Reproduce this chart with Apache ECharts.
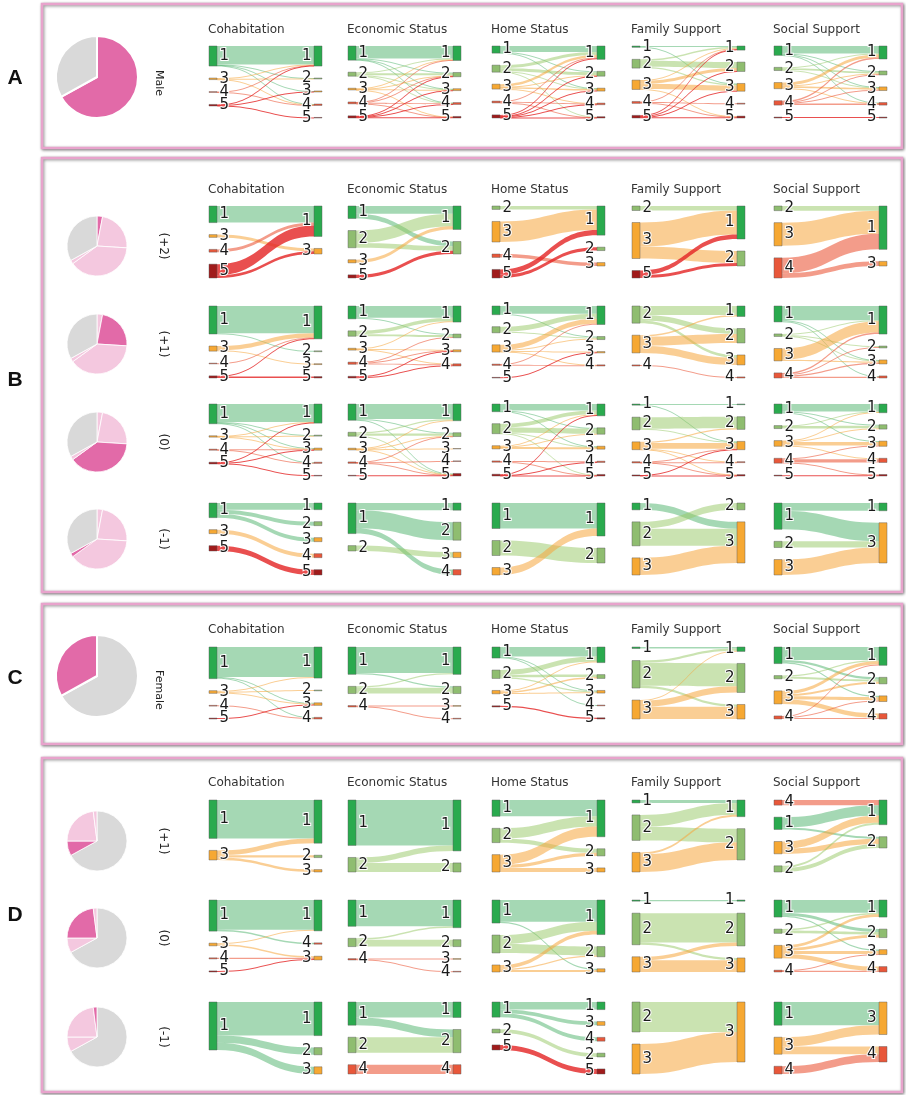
<!DOCTYPE html>
<html>
<head>
<meta charset="utf-8">
<script src="https://cdn.jsdelivr.net/npm/echarts@6/dist/echarts.min.js"></script>
<style>
html,body{margin:0;padding:0;background:#fff;}
#chart{width:906px;height:1095px;}
</style>
</head>
<body>
<div id="chart"></div>
<script>
// ---------- data ----------
const measures = ['Cohabitation', 'Economic Status', 'Home Status', 'Family Support', 'Social Support'];
const rowLabels = ['Male', '(+2)', '(+1)', '(0)', '(-1)', 'Female', '(+1)', '(0)', '(-1)'];
const panelLetters = ['A', 'B', 'C', 'D'];

const genders = ['Male', 'Female'];
const genderShares = [67, 33];
const maleGroups = ['(+2)', '(+1)', '(0)', '(-1)'];
const maleGroupShares = [3, 23, 39, 2];
const femaleGroups = ['(+1)', '(0)', '(-1)'];
const femaleGroupShares = [8, 23, 2];

// transitions per measure: [from category, to category, share]
const flowsMale = [
  [[1,1,20],[1,2,0.6],[1,3,0.6],[1,4,0.6],[3,1,0.8],[3,2,0.4],[3,4,0.5],[4,1,0.4],[4,4,0.5],[5,1,0.6],[5,3,0.5],[5,5,0.6]],
  [[1,1,12],[1,2,0.8],[1,3,0.5],[1,4,0.4],[2,1,1],[2,2,2],[2,3,0.5],[2,4,0.4],[3,1,0.6],[3,2,0.4],[3,3,0.4],[3,5,0.3],[4,1,0.4],[4,2,0.4],[4,4,0.6],[4,5,0.4],[5,2,0.5],[5,3,0.4],[5,4,0.4],[5,5,0.8]],
  [[1,1,6],[1,2,0.8],[1,3,0.3],[2,1,3],[2,2,3],[2,3,0.6],[2,5,0.4],[3,1,2.5],[3,2,0.6],[3,3,1.5],[3,4,0.3],[4,1,0.6],[4,4,0.8],[4,5,0.4],[5,1,1.2],[5,2,0.4],[5,3,0.5],[5,4,0.5],[5,5,0.5]],
  [[1,1,0.5],[1,3,0.4],[2,1,1],[2,2,4],[2,3,1],[3,1,0.5],[3,2,2],[3,3,3.5],[3,5,0.4],[4,1,0.3],[4,4,0.6],[4,5,0.4],[5,1,0.5],[5,2,0.4],[5,3,0.4],[5,5,0.5]],
  [[1,1,5],[1,2,0.5],[1,3,0.4],[1,4,0.3],[2,1,0.6],[2,2,1.2],[2,3,0.3],[3,1,2],[3,2,0.5],[3,3,1.2],[3,4,0.4],[4,1,1],[4,2,0.4],[4,3,0.5],[4,4,1],[5,5,0.6]]
];
const flowsMaleP2 = [
  [[1,1,12],[3,3,2],[4,1,2],[5,1,8],[5,3,2]],
  [[1,1,5],[1,2,3],[2,1,8],[2,2,3],[3,1,2],[5,2,2]],
  [[2,1,2],[3,1,12],[4,3,2],[5,1,3],[5,2,2]],
  [[2,1,3],[3,1,16],[3,2,8],[5,1,3],[5,2,2]],
  [[2,1,3],[3,1,15],[4,1,10],[4,3,3]]
];
const flowsMaleP1 = [
  [[1,1,19],[1,2,0.6],[3,1,3],[3,3,0.6],[4,1,0.5],[5,1,0.5],[5,5,1]],
  [[1,1,7],[1,2,0.6],[2,1,2],[2,2,1.2],[3,1,0.5],[3,3,0.3],[3,4,0.3],[4,2,0.4],[4,3,0.4],[4,4,0.5],[5,3,0.5],[5,4,0.5]],
  [[1,1,6],[1,2,0.8],[2,1,4],[2,2,0.8],[3,1,4],[3,2,0.8],[3,3,0.5],[3,4,0.4],[4,1,0.5],[4,4,0.5],[5,3,0.5]],
  [[2,1,5],[2,2,3],[2,3,1.5],[3,1,0.8],[3,2,5],[3,3,4],[4,4,0.6]],
  [[1,1,9],[1,3,0.5],[1,4,0.5],[2,1,0.6],[2,2,0.6],[2,3,0.4],[3,1,7],[3,3,0.8],[4,1,1],[4,2,0.6],[4,3,0.8],[4,4,0.8]]
];
const flowsMale0 = [
  [[1,1,17],[1,2,0.5],[1,3,0.6],[1,4,0.6],[3,1,0.5],[3,2,0.4],[3,3,0.4],[4,3,0.5],[4,4,0.5],[5,1,0.6],[5,3,0.5],[5,5,0.6]],
  [[1,1,13],[1,2,0.6],[1,5,0.5],[2,1,1],[2,2,2],[2,5,0.4],[3,1,0.5],[3,2,0.4],[3,3,0.3],[3,5,0.3],[4,2,0.3],[4,4,0.5],[4,5,0.4],[5,5,0.6]],
  [[1,1,5],[1,2,0.6],[1,3,0.4],[2,1,3],[2,2,4],[2,3,0.4],[2,5,0.4],[3,1,0.6],[3,2,0.4],[3,3,1.5],[4,4,0.6],[4,5,0.4],[5,1,0.6],[5,4,0.4],[5,5,0.4]],
  [[1,1,0.6],[1,3,0.4],[2,2,10],[2,3,1],[3,2,1],[3,3,5],[3,4,0.4],[3,5,0.4],[4,3,0.4],[4,4,0.4],[4,5,0.3],[5,3,0.4],[5,5,0.5]],
  [[1,1,4.5],[1,2,0.6],[1,3,0.6],[2,1,0.3],[2,2,1.5],[3,1,0.4],[3,2,0.5],[3,3,2],[3,4,0.5],[4,3,0.5],[4,4,2],[4,5,0.4],[5,5,0.5]]
];
const flowsMaleM1 = [
  [[1,1,5],[1,2,3],[1,3,3],[3,4,3],[5,5,4]],
  [[1,1,4],[1,2,10],[1,4,3],[2,3,3]],
  [[1,1,17],[2,2,10],[3,1,5]],
  [[1,3,4],[2,2,4],[2,3,10],[3,3,10]],
  [[1,1,5],[1,3,12],[2,3,4],[3,3,10]]
];
const flowsFemale = [
  [[1,1,20],[1,3,0.6],[1,4,0.6],[3,1,0.8],[3,2,0.5],[3,3,0.5],[4,4,0.5],[5,3,0.6]],
  [[1,1,18],[1,2,1],[2,1,1],[2,2,4],[4,3,0.5],[4,4,0.5]],
  [[1,1,8],[1,3,0.6],[1,4,0.6],[2,1,4],[2,2,2],[2,3,1],[3,1,1],[3,2,1.2],[3,3,0.6],[5,5,1]],
  [[1,1,1],[2,1,1.5],[2,2,15],[2,3,1.5],[3,1,0.4],[3,2,4],[3,3,8]],
  [[1,1,6],[1,2,1],[1,3,0.6],[2,1,0.5],[2,2,1],[3,1,1.5],[3,2,1],[3,3,1.5],[3,4,2],[4,1,0.4],[4,3,0.5],[4,4,0.5]]
];
const flowsFemaleP1 = [
  [[1,1,24],[3,1,3],[3,2,1.5],[3,3,1.5]],
  [[1,1,25],[2,1,3],[2,2,5]],
  [[1,1,8],[2,1,5],[2,2,2],[3,1,5],[3,2,1.5],[3,3,2]],
  [[1,1,1.5],[2,1,6],[2,2,7],[3,1,1],[3,2,9]],
  [[4,1,2.5],[1,1,5],[1,2,1],[3,1,3.5],[3,2,2.5],[2,1,1],[2,2,2]]
];
const flowsFemale0 = [
  [[1,1,22],[1,4,1],[3,1,0.8],[3,3,1.2],[4,3,0.8],[5,3,0.8]],
  [[1,1,19],[2,1,1],[2,2,5],[4,3,0.5],[4,4,0.5]],
  [[1,1,17],[1,3,1],[2,1,7],[2,2,7],[3,1,3],[3,2,1],[3,3,1.5]],
  [[1,1,1],[2,2,25],[2,3,2],[3,2,3],[3,3,10]],
  [[1,1,9],[1,2,2],[1,3,1],[2,1,1],[2,2,2],[3,1,2],[3,2,2],[3,3,2],[3,4,3],[4,3,0.5],[4,4,0.8]]
];
const flowsFemaleM1 = [
  [[1,1,28],[1,2,6],[1,3,6]],
  [[1,1,10],[1,2,5],[2,2,10],[4,4,6]],
  [[1,1,6],[1,3,3],[1,4,3],[2,2,3],[5,5,4]],
  [[2,3,20],[3,3,20]],
  [[1,3,15],[3,3,6],[3,4,5],[4,4,5]]
];

const rowFlows = [flowsMale, flowsMaleP2, flowsMaleP1, flowsMale0, flowsMaleM1,
                  flowsFemale, flowsFemaleP1, flowsFemale0, flowsFemaleM1];

// target columns whose top-to-bottom order is not the plain category order ("row-measure")
const targetOrder = {'7-0': [1, 4, 3], '8-2': [1, 3, 4, 2, 5]};

// ---------- styling / layout ----------
const FONT = 'DejaVu Sans';
const nodeColors = {1:'#2aaa4e', 2:'#8fbd70', 3:'#f6a833', 4:'#e8573a', 5:'#a01b1b'};
const linkColors = {1:'rgba(56,168,88,0.45)', 2:'rgba(150,200,100,0.5)', 3:'rgba(245,165,60,0.55)',
                    4:'rgba(235,90,60,0.6)', 5:'rgba(228,35,35,0.8)'};
const HIGHLIGHT = '#e26aa8', LIGHT = '#f4c8df', GREY = '#d9d9d9';

const rowTop = [46, 206, 306, 404, 503, 647, 800, 900, 1002];
const sankeyH = 72, sankeyW = 113;
const colLeft = [209, 348, 492, 632, 774];
const pieY = [77, 246, 344, 442, 539, 676, 841, 938, 1037];
const pieR = [41, 30, 30, 30, 30, 41, 30, 30, 30];
const titleRows = [[0, 30], [1, 190], [5, 630], [6, 783]];
const panels = [[4, 144, 78], [158, 434, 380], [604, 140, 678], [758, 334, 915]];

function pieData(row) {
  if (row === 0 || row === 5) {
    const hi = row === 0 ? 0 : 1;
    return genders.map((g, i) => ({name: g, value: genderShares[i],
      itemStyle: {color: i === hi ? HIGHLIGHT : GREY}}));
  }
  if (row >= 1 && row <= 4) {
    const hi = row - 1;
    const d = maleGroups.map((g, i) => ({name: 'Male ' + g, value: maleGroupShares[i],
      itemStyle: {color: i === hi ? HIGHLIGHT : LIGHT}}));
    d.push({name: 'Female', value: genderShares[1], itemStyle: {color: GREY}});
    return d;
  }
  const hi = row - 6;
  const d = [{name: 'Male', value: genderShares[0], itemStyle: {color: GREY}}];
  femaleGroups.forEach((g, i) => d.push({name: 'Female ' + g, value: femaleGroupShares[i],
    itemStyle: {color: i === hi ? HIGHLIGHT : LIGHT}}));
  return d;
}

function sankeySeries(links, row, col) {
  const left = [];
  let right = [];
  links.forEach(([s, t]) => {
    if (!left.includes(s)) left.push(s);
    if (!right.includes(t)) right.push(t);
  });
  right = targetOrder[row + '-' + col] || right.sort((a, b) => a - b);
  const nodes = left.map(s => ({
    name: 'L' + s, itemStyle: {color: nodeColors[s]},
    label: {position: 'right', formatter: String(s)}
  })).concat(right.map(t => ({
    name: 'R' + t, itemStyle: {color: nodeColors[t]},
    label: {position: 'left', formatter: String(t)}
  })));
  return {
    type: 'sankey',
    left: colLeft[col], top: rowTop[row], width: sankeyW, height: sankeyH,
    nodeWidth: 8, nodeGap: 12, layoutIterations: 0,
    draggable: false, silent: true,
    emphasis: {disabled: true},
    data: nodes,
    links: links.map(([s, t, v]) => ({source: 'L' + s, target: 'R' + t, value: v,
      lineStyle: {color: linkColors[s], opacity: 1}})),
    itemStyle: {borderColor: 'rgba(90,90,90,0.55)', borderWidth: 0.8},
    lineStyle: {curveness: 0.5},
    label: {show: true, fontFamily: FONT, fontSize: 15, color: '#1a1a1a', distance: 2,
            textBorderColor: '#fff', textBorderWidth: 2}
  };
}

const series = [];
rowFlows.forEach((flows, row) => {
  flows.forEach((links, col) => series.push(sankeySeries(links, row, col)));
  series.push({
    type: 'pie', center: [97, pieY[row]], radius: pieR[row], startAngle: 90,
    silent: true, label: {show: false}, labelLine: {show: false},
    itemStyle: {borderColor: '#fff', borderWidth: pieR[row] > 35 ? 2 : 0.8},
    data: pieData(row)
  });
});

const graphic = [];
panels.forEach(([y, h, ly], i) => {
  graphic.push({type: 'rect', shape: {x: 42, y: y, width: 860, height: h},
    style: {fill: '#fff', stroke: '#e8a3cc', lineWidth: 2.5,
            shadowBlur: 3, shadowOffsetX: 1, shadowOffsetY: 1, shadowColor: 'rgba(0,0,0,0.45)'},
    z: -10, silent: true});
  graphic.push({type: 'text', x: 15, y: ly, style: {text: panelLetters[i], fill: '#111',
    font: 'bold 21px "Liberation Sans", Arial', textAlign: 'center', textVerticalAlign: 'middle'}});
});
titleRows.forEach(([row, ty]) => {
  measures.forEach((m, c) => graphic.push({type: 'text', x: colLeft[c] - 1, y: ty,
    style: {text: m, fill: '#333', font: '12px "' + FONT + '"', textVerticalAlign: 'middle'}}));
});
rowLabels.forEach((t, row) => {
  const big = row === 0 || row === 5;
  graphic.push({type: 'text', x: big ? 159 : 163, y: pieY[row] + (row === 0 ? 6 : row === 5 ? 14 : 0),
    rotation: -Math.PI / 2,
    style: {text: t, fill: '#222', font: (big ? '11px ' : '12px ') + '"' + FONT + '"',
            textAlign: 'center', textVerticalAlign: 'middle'}});
});

const chart = echarts.init(document.getElementById('chart'), null, {renderer: 'canvas'});
chart.setOption({animation: false, backgroundColor: '#fff', series: series, graphic: graphic});
</script>
</body>
</html>
